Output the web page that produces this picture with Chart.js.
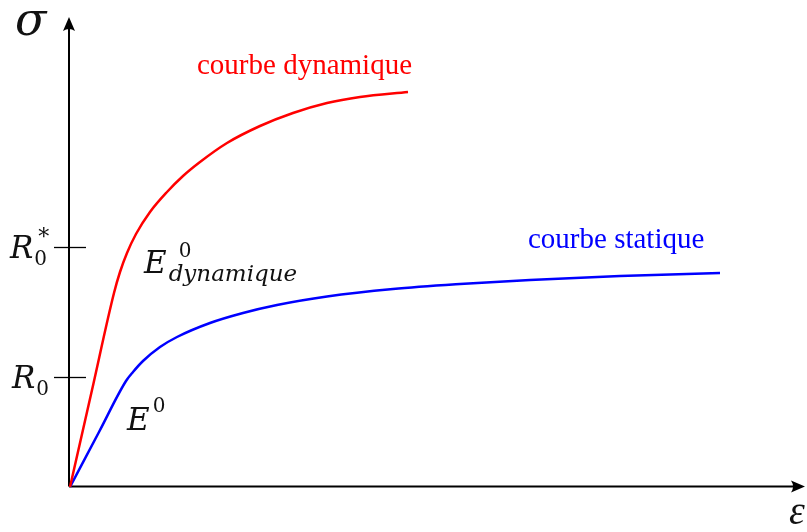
<!DOCTYPE html>
<html>
<head>
<meta charset="utf-8">
<script src="https://cdn.jsdelivr.net/npm/chart.js@4/dist/chart.umd.min.js"></script>
<style>
  html, body { margin: 0; padding: 0; background: #fff; }
  #chart { display: block; }
</style>
</head>
<body>
<canvas id="chart" width="807" height="532"></canvas>
<script>
// Courbes contrainte / déformation (unités arbitraires)
const dynEps = [0, 0.22, 0.44, 0.50, 0.57, 0.66, 0.80, 0.97, 1.13, 1.30, 1.57, 1.90, 2.23, 2.57, 2.90, 3.38];
const dynSig = [0, 0.97, 1.94, 2.15, 2.34, 2.53, 2.75, 2.95, 3.11, 3.25, 3.44, 3.61, 3.74, 3.84, 3.90, 3.95];

const statEps = [0, 0.29, 0.56, 0.63, 0.73, 0.90, 1.07, 1.40, 1.73, 2.07, 2.57, 3.23, 3.90, 4.60, 5.50, 6.50];
const statSig = [0, 0.55, 1.06, 1.15, 1.26, 1.40, 1.50, 1.64, 1.74, 1.82, 1.905, 1.98, 2.03, 2.07, 2.11, 2.14];

// niveaux repérés sur l'axe des contraintes
const yTickValues = [1.10, 2.40];
const yTickNames = ['R0', 'R0*'];

const EPS_MAX = 7.35;
const SIG_MAX = 4.70;

const toPoints = (xs, ys) => xs.map((x, i) => ({ x: x, y: ys[i] }));

const MATH = '"DejaVu Serif", serif';

function arrowHead(ctx, x, y, dir) {
    // pointe style LaTeX (stealth), dir: 'up' ou 'right'
    ctx.save();
    ctx.translate(x, y);
    if (dir === 'up') ctx.rotate(-Math.PI / 2);
    ctx.beginPath();
    ctx.moveTo(0, 0);
    ctx.lineTo(-14, -6);
    ctx.quadraticCurveTo(-10, 0, -14, 6);
    ctx.closePath();
    ctx.fillStyle = '#000';
    ctx.fill();
    ctx.restore();
}

function mathText(ctx, str, x, y, size, italic, family) {
    ctx.font = (italic ? 'italic ' : '') + size + 'px ' + (family || MATH);
    ctx.fillText(str, x, y);
    return ctx.measureText(str).width;
}

const axesPlugin = {
    id: 'axesPlugin',
    beforeDatasetsDraw(chart) {
        const ctx = chart.ctx;
        const xs = chart.scales.x, ys = chart.scales.y;
        const x0 = xs.getPixelForValue(0) - 1;
        const y0 = ys.getPixelForValue(0) - 0.5;
        const xEnd = xs.getPixelForValue(EPS_MAX);
        const yEnd = ys.getPixelForValue(SIG_MAX);

        ctx.save();
        ctx.strokeStyle = '#000';
        ctx.lineWidth = 2;
        ctx.beginPath();
        ctx.moveTo(x0, y0);
        ctx.lineTo(x0, yEnd + 6);
        ctx.moveTo(x0, y0);
        ctx.lineTo(xEnd - 6, y0);
        ctx.stroke();
        arrowHead(ctx, x0, yEnd, 'up');
        arrowHead(ctx, xEnd, y0, 'right');

        // petits traits sur l'axe des contraintes
        ctx.lineWidth = 1.3;
        yTickValues.forEach(v => {
            const py = Math.round(ys.getPixelForValue(v)) + 0.5;
            ctx.beginPath();
            ctx.moveTo(x0 - 15, py);
            ctx.lineTo(x0 + 17, py);
            ctx.stroke();
        });
        ctx.restore();
    },
    afterDatasetsDraw(chart) {
        const ctx = chart.ctx;
        const ys = chart.scales.y;
        ctx.save();
        ctx.fillStyle = '#111';
        ctx.textBaseline = 'alphabetic';

        // noms des niveaux R0 et R0*
        yTickNames.forEach((name, i) => {
            const py = ys.getPixelForValue(yTickValues[i]);
            const startX = name === 'R0*' ? 10 : 12;
            const w = mathText(ctx, 'R', startX, py + 11, 31, true);
            mathText(ctx, '0', startX + w + 1, py + 18, 20, false);
            if (name === 'R0*') mathText(ctx, '*', startX + w + 5, py - 3, 22, false);
        });

        // axes
        mathText(ctx, 'σ', 15, 35, 46, true);
        mathText(ctx, 'ε', 789, 524, 40, true, '"Liberation Serif", serif');

        // modules
        let w = mathText(ctx, 'E', 144, 273, 31, true);
        mathText(ctx, '0', 144 + w + 12, 257, 20, false);
        mathText(ctx, 'dynamique', 144 + w + 2, 281, 23, true);

        w = mathText(ctx, 'E', 127, 430, 31, true);
        mathText(ctx, '0', 127 + w + 3, 412, 20, false);

        // titres des courbes
        ctx.font = '29px "Liberation Serif", serif';
        ctx.fillStyle = '#ff0000';
        ctx.fillText('courbe dynamique', 197, 74);
        ctx.fillStyle = '#0000ff';
        ctx.fillText('courbe statique', 528, 248);
        ctx.restore();
    }
};

new Chart(document.getElementById('chart'), {
    type: 'line',
    data: {
        datasets: [
            {
                label: 'courbe dynamique',
                data: toPoints(dynEps, dynSig),
                borderColor: '#ff0000',
                borderWidth: 2.5,
                pointRadius: 0,
                cubicInterpolationMode: 'monotone',
                fill: false,
                clip: false
            },
            {
                label: 'courbe statique',
                data: toPoints(statEps, statSig),
                borderColor: '#0000ff',
                borderWidth: 2.5,
                pointRadius: 0,
                cubicInterpolationMode: 'monotone',
                fill: false,
                clip: false
            }
        ]
    },
    options: {
        responsive: false,
        animation: false,
        devicePixelRatio: 1,
        layout: { padding: { left: 70, right: 2, top: 17, bottom: 45 } },
        plugins: { legend: { display: false }, tooltip: { enabled: false } },
        scales: {
            x: { type: 'linear', min: 0, max: EPS_MAX, display: false },
            y: { type: 'linear', min: 0, max: SIG_MAX, display: false }
        }
    },
    plugins: [axesPlugin]
});
</script>
</body>
</html>
